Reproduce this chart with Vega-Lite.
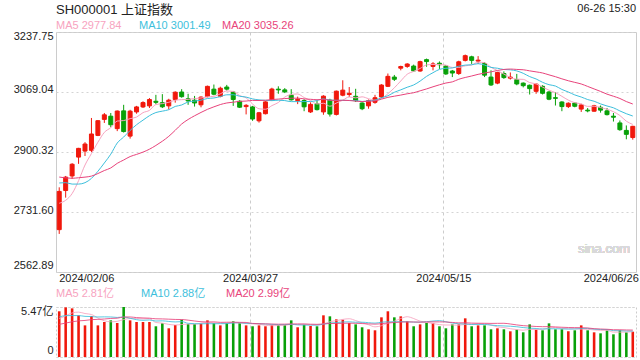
{
 "$schema": "https://vega.github.io/schema/vega-lite/v6.json",
 "padding": {"left": 12, "top": 2, "right": 6, "bottom": 5},
 "background": "white",
 "title": {"text": "SH000001 上证指数", "anchor": "start", "frame": "group", "fontSize": 13, "fontWeight": "normal", "color": "#222222", "offset": 0, "dy": 14},
 "datasets": {"k": [
  {"d":"2024/01/10","c":2877.70,"v":2.6},
  {"d":"2024/01/11","c":2886.65,"v":2.5},
  {"d":"2024/01/12","c":2881.98,"v":2.5},
  {"d":"2024/01/15","c":2886.29,"v":2.6},
  {"d":"2024/01/16","c":2893.99,"v":2.7},
  {"d":"2024/01/17","c":2845.78,"v":2.9},
  {"d":"2024/01/18","c":2833.62,"v":3.0},
  {"d":"2024/01/19","c":2832.28,"v":2.8},
  {"d":"2024/01/22","c":2756.34,"v":3.2},
  {"d":"2024/01/23","c":2770.98,"v":2.8},
  {"d":"2024/01/24","c":2820.77,"v":4.0},
  {"d":"2024/01/25","c":2906.11,"v":5.2},
  {"d":"2024/01/26","c":2910.22,"v":4.6},
  {"d":"2024/01/29","c":2883.36,"v":4.3},
  {"d":"2024/01/30","c":2830.53,"v":4.75},
  {"d":"2024/01/31","c":2788.55,"v":3.9},
  {"d":"2024/02/01","c":2770.74,"v":3.7},
  {"d":"2024/02/02","c":2730.15,"v":4.1},
  {"d":"2024/02/05","c":2702.19,"v":4.25},
  {"d":"2024/02/06","o":2682,"h":2801,"l":2670,"c":2789.49,"v":5.00},
  {"d":"2024/02/07","o":2792,"h":2833,"l":2772,"c":2829.70,"v":5.43},
  {"d":"2024/02/08","o":2833,"h":2869,"l":2825,"c":2865.90,"v":5.32},
  {"d":"2024/02/19","o":2886,"h":2912,"l":2867,"c":2910.54,"v":4.56},
  {"d":"2024/02/20","o":2903,"h":2928,"l":2889,"c":2922.73,"v":3.46},
  {"d":"2024/02/21","o":2905,"h":2996,"l":2900,"c":2950.96,"v":4.49},
  {"d":"2024/02/22","o":2947,"h":2990,"l":2945,"c":2988.36,"v":3.46},
  {"d":"2024/02/23","o":2992,"h":3010,"l":2982,"c":3004.88,"v":3.83},
  {"d":"2024/02/26","o":3001,"h":3010,"l":2970,"c":2977.02,"v":4.01},
  {"d":"2024/02/27","o":2966,"h":3017,"l":2959,"c":3015.48,"v":3.72},
  {"d":"2024/02/28","o":3016,"h":3033,"l":2955,"c":2957.85,"v":5.47},
  {"d":"2024/02/29","o":2945,"h":3019,"l":2938,"c":3015.17,"v":4.01},
  {"d":"2024/03/01","o":3013,"h":3030,"l":3008,"c":3027.02,"v":3.83},
  {"d":"2024/03/04","o":3027,"h":3043,"l":3024,"c":3039.31,"v":3.83},
  {"d":"2024/03/05","o":3030,"h":3052,"l":3024,"c":3047.79,"v":3.83},
  {"d":"2024/03/06","o":3043,"h":3061,"l":3035,"c":3039.93,"v":3.36},
  {"d":"2024/03/07","o":3039,"h":3063,"l":3024,"c":3027.40,"v":3.68},
  {"d":"2024/03/08","o":3030,"h":3050,"l":3020,"c":3046.02,"v":3.14},
  {"d":"2024/03/11","o":3048,"h":3071,"l":3039,"c":3068.46,"v":3.50},
  {"d":"2024/03/12","o":3069,"h":3077,"l":3053,"c":3055.94,"v":4.08},
  {"d":"2024/03/13","o":3050,"h":3064,"l":3033,"c":3043.83,"v":3.61},
  {"d":"2024/03/14","o":3046,"h":3058,"l":3028,"c":3038.23,"v":3.61},
  {"d":"2024/03/15","o":3033,"h":3057,"l":3026,"c":3054.64,"v":3.65},
  {"d":"2024/03/18","o":3056,"h":3087,"l":3054,"c":3084.93,"v":4.01},
  {"d":"2024/03/19","o":3077,"h":3090,"l":3060,"c":3062.76,"v":3.72},
  {"d":"2024/03/20","o":3057,"h":3084,"l":3054,"c":3079.69,"v":3.46},
  {"d":"2024/03/21","o":3083,"h":3089,"l":3073,"c":3077.11,"v":3.72},
  {"d":"2024/03/22","o":3069,"h":3072,"l":3030,"c":3048.03,"v":3.90},
  {"d":"2024/03/25","o":3043,"h":3046,"l":3024,"c":3026.31,"v":3.72},
  {"d":"2024/03/26","o":3028,"h":3035,"l":3006,"c":3031.48,"v":3.46},
  {"d":"2024/03/27","o":3027,"h":3030,"l":2988,"c":2993.14,"v":3.36},
  {"d":"2024/03/28","o":2988,"h":3013,"l":2983,"c":3010.66,"v":3.46},
  {"d":"2024/03/29","o":3008,"h":3043,"l":3006,"c":3041.17,"v":3.36},
  {"d":"2024/04/01","o":3047,"h":3081,"l":3045,"c":3077.38,"v":3.50},
  {"d":"2024/04/02","o":3077,"h":3085,"l":3064,"c":3074.96,"v":3.50},
  {"d":"2024/04/03","o":3075,"h":3080,"l":3066,"c":3069.30,"v":3.50},
  {"d":"2024/04/08","o":3060,"h":3077,"l":3045,"c":3047.05,"v":4.01},
  {"d":"2024/04/09","o":3045,"h":3056,"l":3035,"c":3048.54,"v":3.25},
  {"d":"2024/04/10","o":3045,"h":3049,"l":3015,"c":3027.34,"v":3.54},
  {"d":"2024/04/11","o":3013,"h":3040,"l":3010,"c":3034.25,"v":3.39},
  {"d":"2024/04/12","o":3036,"h":3045,"l":3017,"c":3019.47,"v":3.36},
  {"d":"2024/04/15","o":3013,"h":3060,"l":3005,"c":3057.38,"v":4.56},
  {"d":"2024/04/16","o":3046,"h":3050,"l":3000,"c":3007.07,"v":4.45},
  {"d":"2024/04/17","o":3006,"h":3073,"l":3003,"c":3071.38,"v":4.12},
  {"d":"2024/04/18","o":3060,"h":3102,"l":3057,"c":3074.22,"v":4.08},
  {"d":"2024/04/19","o":3062,"h":3083,"l":3055,"c":3065.26,"v":3.72},
  {"d":"2024/04/22","o":3057,"h":3078,"l":3041,"c":3044.60,"v":3.57},
  {"d":"2024/04/23","o":3038,"h":3040,"l":3018,"c":3021.98,"v":3.25},
  {"d":"2024/04/24","o":3030,"h":3048,"l":3022,"c":3044.82,"v":3.03},
  {"d":"2024/04/25","o":3040,"h":3061,"l":3036,"c":3052.90,"v":2.92},
  {"d":"2024/04/26","o":3055,"h":3091,"l":3052,"c":3088.64,"v":4.34},
  {"d":"2024/04/29","o":3085,"h":3121,"l":3083,"c":3113.04,"v":5.00},
  {"d":"2024/04/30","o":3111,"h":3117,"l":3100,"c":3104.82,"v":4.34},
  {"d":"2024/05/06","o":3136,"h":3143,"l":3130,"c":3140.72,"v":4.45},
  {"d":"2024/05/07","o":3141,"h":3150,"l":3137,"c":3147.74,"v":3.90},
  {"d":"2024/05/08","o":3142,"h":3146,"l":3126,"c":3128.48,"v":3.36},
  {"d":"2024/05/09","o":3128,"h":3157,"l":3126,"c":3154.32,"v":3.57},
  {"d":"2024/05/10","o":3160,"h":3163,"l":3140,"c":3154.55,"v":3.72},
  {"d":"2024/05/13","o":3141,"h":3153,"l":3130,"c":3148.02,"v":3.72},
  {"d":"2024/05/14","o":3150,"h":3155,"l":3134,"c":3145.77,"v":3.36},
  {"d":"2024/05/15","o":3142,"h":3145,"l":3117,"c":3119.90,"v":3.14},
  {"d":"2024/05/16","o":3128,"h":3131,"l":3111,"c":3122.40,"v":3.57},
  {"d":"2024/05/17","o":3121,"h":3157,"l":3117,"c":3154.03,"v":3.57},
  {"d":"2024/05/20","o":3158,"h":3174.27,"l":3155,"c":3171.15,"v":4.23},
  {"d":"2024/05/21","o":3168,"h":3171,"l":3148,"c":3157.97,"v":3.36},
  {"d":"2024/05/22","o":3156,"h":3170,"l":3148,"c":3158.54,"v":3.46},
  {"d":"2024/05/23","o":3149,"h":3153,"l":3111,"c":3116.39,"v":3.46},
  {"d":"2024/05/24","o":3111,"h":3130,"l":3086,"c":3088.87,"v":3.03},
  {"d":"2024/05/27","o":3094,"h":3126,"l":3091,"c":3124.04,"v":3.14},
  {"d":"2024/05/28","o":3121,"h":3127,"l":3106,"c":3109.57,"v":3.03},
  {"d":"2024/05/29","o":3108,"h":3124,"l":3104,"c":3111.02,"v":2.81},
  {"d":"2024/05/30","o":3104,"h":3120,"l":3088,"c":3091.68,"v":2.99},
  {"d":"2024/05/31","o":3094,"h":3096,"l":3082,"c":3086.81,"v":2.70},
  {"d":"2024/06/03","o":3088,"h":3090,"l":3062,"c":3078.49,"v":3.57},
  {"d":"2024/06/04","o":3071,"h":3093,"l":3064,"c":3091.20,"v":2.99},
  {"d":"2024/06/05","o":3085,"h":3088,"l":3062,"c":3065.40,"v":2.92},
  {"d":"2024/06/06","o":3069,"h":3072,"l":3046,"c":3048.79,"v":3.68},
  {"d":"2024/06/07","o":3053,"h":3069,"l":3031,"c":3051.28,"v":3.03},
  {"d":"2024/06/11","o":3041,"h":3043,"l":3015,"c":3028.05,"v":3.03},
  {"d":"2024/06/12","o":3028,"h":3040,"l":3024,"c":3037.47,"v":2.81},
  {"d":"2024/06/13","o":3038,"h":3040,"l":3026,"c":3028.92,"v":2.92},
  {"d":"2024/06/14","o":3021,"h":3036,"l":3013,"c":3032.63,"v":3.46},
  {"d":"2024/06/17","o":3018,"h":3024,"l":3012,"c":3015.89,"v":2.92},
  {"d":"2024/06/18","o":3015,"h":3033,"l":3014,"c":3030.25,"v":2.70},
  {"d":"2024/06/19","o":3026,"h":3031,"l":3011,"c":3018.05,"v":2.59},
  {"d":"2024/06/20","o":3016,"h":3024,"l":3003,"c":3005.44,"v":2.92},
  {"d":"2024/06/21","o":3001,"h":3010,"l":2986,"c":2998.14,"v":2.48},
  {"d":"2024/06/24","o":2982,"h":2989,"l":2960,"c":2963.10,"v":2.92},
  {"d":"2024/06/25","o":2961,"h":2975,"l":2936,"c":2950.00,"v":2.70},
  {"d":"2024/06/26","o":2941,"h":2974,"l":2935,"c":2972.53,"v":2.77}
 ]},
 "data": {"name": "k"},
 "spacing": 35,
 "bounds": "flush",
 "resolve": {"scale": {"color": "independent"}, "legend": {"color": "independent"}},
 "vconcat": [
  {
   "width": 580,
   "height": 240,
   "title": {"text": "06-26 15:30", "anchor": "end", "frame": "group", "fontSize": 11, "fontWeight": "normal", "color": "#222222", "offset": 6},
   "layer": [
    {
     "transform": [{"filter": "isValid(datum.o)"}],
     "mark": {"type": "rule", "strokeWidth": 1},
     "encoding": {
      "x": {"field": "d", "type": "ordinal", "title": null, "scale": {"type": "band", "paddingInner": 0, "paddingOuter": 0},
       "axis": {"values": ["2024/02/06", "2024/03/27", "2024/05/15", "2024/06/26"], "bandPosition": 0.15, "labelAngle": 0, "labelPadding": 0, "labelOverlap": false, "labelBound": false,
        "labelAlign": {"condition": [{"test": "datum.value == '2024/02/06'", "value": "left"}, {"test": "datum.value == '2024/06/26'", "value": "right"}], "value": "center"},
        "labelOffset": {"condition": [{"test": "datum.value == '2024/06/26'", "value": 6}, {"test": "datum.value == '2024/02/06'", "value": 0}], "value": -2},
        "grid": true, "gridColor": "#cccccc", "gridDash": [3, 3],
        "gridOpacity": {"condition": {"test": "datum.value == '2024/03/27' || datum.value == '2024/05/15'", "value": 1}, "value": 0},
        "title": null}},
      "y": {"field": "l", "type": "quantitative", "title": null, "scale": {"domain": [2562.89, 3237.75], "zero": false, "nice": false},
       "axis": {"values": [2562.89, 2731.60, 2900.32, 3069.04, 3237.75], "format": ".2f", "labelFlush": true, "labelOffset": -2, "labelPadding": 3, "grid": true, "gridColor": "#d4d4d4", "gridDash": [2, 3], "title": null}},
      "y2": {"field": "h"},
      "color": {"condition": {"test": "datum.c >= datum.o", "value": "#f0180c"}, "value": "#08a008"}
     }
    },
    {
     "transform": [{"filter": "isValid(datum.o)"}],
     "mark": {"type": "bar", "width": {"band": 0.62}, "strokeWidth": 1},
     "encoding": {
      "x": {"field": "d", "type": "ordinal", "title": null},
      "y": {"field": "o", "type": "quantitative", "title": null},
      "y2": {"field": "c"},
      "color": {"condition": {"test": "datum.c >= datum.o", "value": "#f0180c"}, "value": "#08a008"},
      "stroke": {"condition": {"test": "datum.c >= datum.o", "value": "#f0180c"}, "value": "#08a008"}
     }
    },
    {
     "transform": [
      {"window": [{"op": "mean", "field": "c", "as": "m5"}], "frame": [-4, 0], "sort": [{"field": "d"}]},
      {"window": [{"op": "mean", "field": "c", "as": "m10"}], "frame": [-9, 0], "sort": [{"field": "d"}]},
      {"window": [{"op": "mean", "field": "c", "as": "m20"}], "frame": [-19, 0], "sort": [{"field": "d"}]},
      {"filter": "isValid(datum.o)"},
      {"fold": ["m5", "m10", "m20"], "as": ["k", "val"]}
     ],
     "mark": {"type": "line", "strokeWidth": 1, "interpolate": "monotone"},
     "encoding": {
      "x": {"field": "d", "type": "ordinal", "title": null},
      "y": {"field": "val", "type": "quantitative", "title": null},
      "color": {"field": "k", "type": "nominal", "scale": {"domain": ["m5", "m10", "m20"], "range": ["#f7a3c0", "#3dbfdc", "#e8437b"]},
       "legend": {"orient": "none", "legendX": -11, "legendY": -12, "direction": "horizontal", "title": null, "symbolSize": 0, "symbolOpacity": 0, "symbolStrokeWidth": 0, "labelOffset": 0, "labelFontSize": 11, "gridAlign": "all", "columnPadding": 0, "padding": 0,
        "labelExpr": "datum.value == 'm5' ? 'MA5 2977.84' : datum.value == 'm10' ? 'MA10 3001.49' : 'MA20 3035.26'",
        "labelColor": {"expr": "datum.value == 'm5' ? '#f7a3c0' : datum.value == 'm10' ? '#3dbfdc' : '#e8437b'"}}}
     }
    },
    {
     "mark": {"type": "text", "fontSize": 13, "color": "#d9d9d9", "dx": -3},
     "encoding": {
      "x": {"datum": "2024/06/20", "type": "ordinal"},
      "y": {"datum": 2627, "type": "quantitative"},
      "text": {"value": "sina.com"}
     }
    }
   ]
  },
  {
   "width": 580,
   "height": 50,
   "view": {"stroke": "#cccccc", "strokeDash": [2, 2]},
   "layer": [
    {
     "transform": [{"filter": "isValid(datum.o)"}],
     "mark": {"type": "bar", "width": {"band": 0.4}},
     "encoding": {
      "x": {"field": "d", "type": "ordinal", "title": null, "scale": {"type": "band", "paddingInner": 0, "paddingOuter": 0},
       "axis": {"values": ["2024/02/06", "2024/03/27", "2024/05/15", "2024/06/26"], "bandPosition": 0.15, "labels": false,
        "grid": true, "gridColor": "#cccccc", "gridDash": [3, 3],
        "gridOpacity": {"condition": {"test": "datum.value == '2024/03/27' || datum.value == '2024/05/15'", "value": 1}, "value": 0},
        "title": null}},
      "y": {"field": "v", "type": "quantitative", "title": null, "scale": {"domain": [0, 5.47], "nice": false},
       "axis": {"values": [0, 5.47], "labelExpr": "datum.value > 0 ? '5.47亿' : '0'", "labelFlush": true, "labelOffset": -2, "labelPadding": 3, "grid": true, "gridColor": "#d4d4d4", "gridDash": [2, 2], "title": null}},
      "color": {"condition": {"test": "datum.c >= datum.o", "value": "#f0180c"}, "value": "#08a008"}
     }
    },
    {
     "transform": [
      {"window": [{"op": "mean", "field": "v", "as": "m5"}], "frame": [-4, 0], "sort": [{"field": "d"}]},
      {"window": [{"op": "mean", "field": "v", "as": "m10"}], "frame": [-9, 0], "sort": [{"field": "d"}]},
      {"window": [{"op": "mean", "field": "v", "as": "m20"}], "frame": [-19, 0], "sort": [{"field": "d"}]},
      {"filter": "isValid(datum.o)"},
      {"fold": ["m5", "m10", "m20"], "as": ["k", "val"]}
     ],
     "mark": {"type": "line", "strokeWidth": 1, "interpolate": "monotone", "opacity": 0.85},
     "encoding": {
      "x": {"field": "d", "type": "ordinal", "title": null},
      "y": {"field": "val", "type": "quantitative", "title": null},
      "color": {"field": "k", "type": "nominal", "scale": {"domain": ["m5", "m10", "m20"], "range": ["#f7a3c0", "#3dbfdc", "#e8437b"]},
       "legend": {"orient": "none", "legendX": -11, "legendY": -19, "direction": "horizontal", "title": null, "symbolSize": 0, "symbolOpacity": 0, "symbolStrokeWidth": 0, "labelOffset": 0, "labelFontSize": 11, "gridAlign": "all", "columnPadding": 9, "padding": 0,
        "labelExpr": "datum.value == 'm5' ? 'MA5 2.81亿' : datum.value == 'm10' ? 'MA10 2.88亿' : 'MA20 2.99亿'",
        "labelColor": {"expr": "datum.value == 'm5' ? '#f7a3c0' : datum.value == 'm10' ? '#3dbfdc' : '#e8437b'"}}}
     }
    }
   ]
  }
 ],
 "config": {
  "font": "Liberation Sans, Noto Sans CJK SC, sans-serif",
  "view": {"stroke": "#cccccc"},
  "axis": {"labelFontSize": 11, "labelColor": "#222222", "ticks": false, "domain": false, "labelFont": "Liberation Sans, Noto Sans CJK SC, sans-serif"},
  "legend": {"labelFont": "Liberation Sans, Noto Sans CJK SC, sans-serif"},
  "title": {"font": "Liberation Sans, Noto Sans CJK SC, sans-serif"}
 }
}
